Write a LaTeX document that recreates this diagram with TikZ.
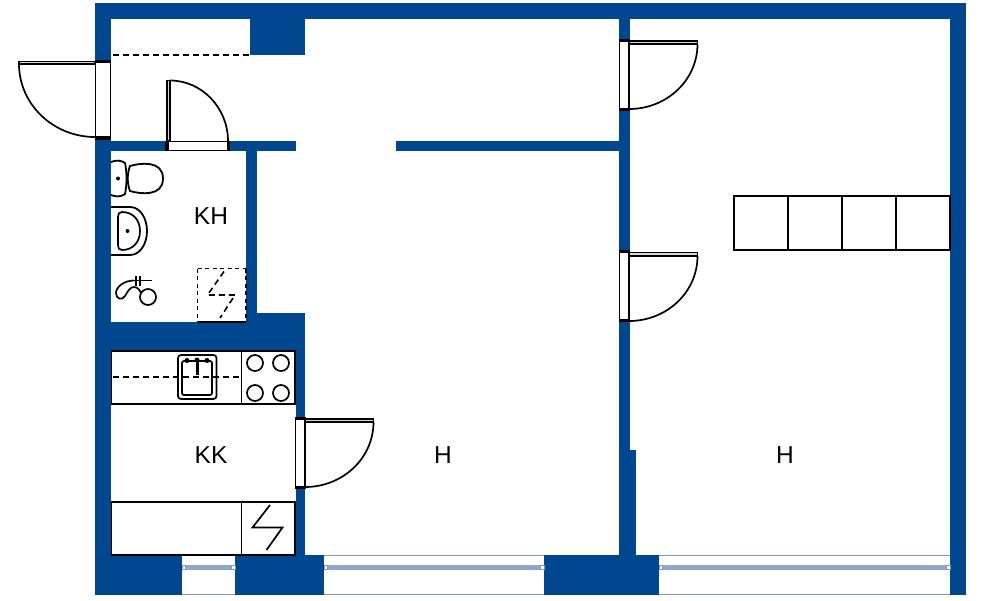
\documentclass[tikz,border=0pt]{standalone}
\usepackage{fontspec}
\setmainfont{Liberation Sans}
\definecolor{wallblue}{HTML}{004790}
\definecolor{glass}{HTML}{8FA8C9}
\definecolor{sill}{HTML}{7F97BC}
\tikzset{
  wall/.style={fill=wallblue,draw=none},
  doorframe/.style={draw=black,line width=1.7pt,fill=white},
  jamb/.style={fill=black,draw=none},
  leaf/.style={draw=black,line width=1.4pt,fill=white!85!black},
  swing/.style={draw=black,line width=1.7pt},
  fixture/.style={draw=black,line width=1.8pt,fill=white},
  symbol/.style={draw=black,line width=1.7pt},
  dashline/.style={draw=black,line width=1.6pt,dash pattern=on 6pt off 4pt},
  shortdash/.style={draw=black,line width=1.6pt,dash pattern=on 4pt off 3.5pt},
  roomlabel/.style={font=\fontsize{24.5}{24.5}\selectfont,text=black,inner sep=0pt},
  glassbar/.style={fill=glass,draw=none},
  sillline/.style={draw=sill,line width=1.2pt},
  glassclip/.style={draw=sill,line width=.7pt,fill=white}
}
\begin{document}
\begin{tikzpicture}[x=1pt,y=-1pt]
\useasboundingbox (0,0) rectangle (987,600);
\fill[white] (0,0) rectangle (987,600);
% walls
\fill[wall] (95,3) rectangle (966,19);
\fill[wall] (95,3) rectangle (111,60);
\fill[wall] (95,138) rectangle (111,595);
\fill[wall] (950,3) rectangle (966,595);
\fill[wall] (250,19) rectangle (305,55);
\fill[wall] (111,141) rectangle (296,151);
\fill[wall] (396,141) rectangle (619,151);
\fill[wall] (246,151) rectangle (257,322);
\fill[wall] (111,322) rectangle (296,351);
\fill[wall] (246,313) rectangle (305,351);
\fill[wall] (296,351) rectangle (305,555);
\fill[wall] (619,19) rectangle (630,555);
\fill[wall] (619,450) rectangle (636,555);
\fill[wall] (95,555) rectangle (182,595);
\fill[wall] (235,555) rectangle (324,595);
\fill[wall] (544,555) rectangle (659,595);
% windows
\foreach \a/\b in {182/235,324/544,659/950}{
  \draw[sillline] (\a,555.5) -- (\b,555.5);
  \draw[sillline] (\a,594.5) -- (\b,594.5);
  \fill[glassbar] (\a+3,565) rectangle (\b-3,569.5);
  \draw[glassclip] (\a,565.5) rectangle (\a+3.5,569);
  \draw[glassclip] (\b-3.5,565.5) rectangle (\b,569);
}
% entrance door
\draw[doorframe] (95.5,61) rectangle (110.5,138);
\fill[jamb] (95,59.5) rectangle (111,63);
\fill[jamb] (95,136) rectangle (111,139.5);
\draw[leaf] (19,61.5) rectangle (95,64);
\draw[swing] (19,64) .. controls (19,104) and (53,137) .. (95,137);
% bathroom door
\draw[doorframe] (166.5,141.5) rectangle (228.5,150.5);
\fill[jamb] (165,141) rectangle (168.5,151);
\fill[jamb] (226.5,141) rectangle (230,151);
\draw[leaf] (167,80.5) rectangle (170,141);
\draw[swing] (170,80.5) .. controls (202,80.5) and (228,108) .. (228,141);
% room doors, middle wall
\draw[doorframe] (619.5,39.5) rectangle (629,109.5);
\fill[jamb] (619,38.5) rectangle (630,41.5);
\fill[jamb] (619,107.5) rectangle (630,110.5);
\draw[leaf] (629,41) rectangle (697.5,44);
\draw[swing] (697.5,44) .. controls (697.5,80) and (667,109) .. (629,109);
\draw[doorframe] (619.5,251) rectangle (629,321);
\fill[jamb] (619,250) rectangle (630,253);
\fill[jamb] (619,319) rectangle (630,322);
\draw[leaf] (629,252.5) rectangle (697.5,256);
\draw[swing] (697.5,256) .. controls (697.5,292) and (667,321) .. (629,321);
% kitchen door
\draw[doorframe] (295.5,418) rectangle (305,487.5);
\fill[jamb] (295,417) rectangle (306,420);
\fill[jamb] (295,485.5) rectangle (306,488.5);
\draw[leaf] (305,419) rectangle (373.5,422);
\draw[swing] (373.5,422) .. controls (373.5,458) and (343,487) .. (305,487);
% dashed opening
\draw[dashline] (113,55) -- (250,55);
% toilet
\draw[fixture] (111,162) .. controls (116,160) and (121,160) .. (125,163)
  .. controls (127,172) and (127,185) .. (125,194)
  .. controls (121,197) and (116,197) .. (111,195);
\draw[fixture] (130,166) .. controls (140,163) and (163,160) .. (163,178.5)
  .. controls (163,197) and (140,194) .. (130,191)
  .. controls (127,183) and (127,174) .. (130,166) -- cycle;
\fill[black] (118,178.5) circle (2);
% washbasin
\draw[fixture] (111,207) -- (130,207) .. controls (140,207) and (147,218) .. (147,231)
  .. controls (147,244) and (140,255) .. (130,255) -- (111,255);
\draw[symbol] (122,212) .. controls (133,212) and (140,220) .. (140,231)
  .. controls (140,242) and (133,250) .. (122,250)
  .. controls (119,250) and (118,248) .. (118,245) -- (118,217)
  .. controls (118,214) and (119,212) .. (122,212) -- cycle;
\fill[black] (127.5,231) circle (2);
% shower
\draw[symbol] (148,297) circle (8);
\draw[symbol] (134,280.5) -- (152,280.5);
\draw[symbol] (136,276) -- (136,286);
\draw[symbol] (140,276) -- (140,286);
\draw[symbol] (134,280.5) .. controls (124,280.5) and (116,287) .. (116,293)
  .. controls (116,299) and (122,301) .. (125,296)
  .. controls (128,291) and (130,287) .. (134,287)
  .. controls (138,287) and (140,291) .. (141,293);
% dashed unit in bathroom
\draw[shortdash] (197.5,268.5) -- (246,268.5);
\draw[shortdash] (197.5,268.5) -- (197.5,322);
\draw[symbol] (197.5,322) -- (246,322);
\draw[shortdash] (246,268.5) -- (246,322);
\draw[dashline] (224,271.5) -- (207.5,295) -- (235,295) -- (220,318);
% kitchen counter
\draw[fixture] (111.5,351) rectangle (295,404);
\draw[symbol] (241.5,351) -- (241.5,404);
\foreach \cx/\cy in {255/363,281/363,255/393,281/393}{\draw[symbol] (\cx,\cy) circle (8);}
\draw[dashline] (113,377) -- (239,377);
\draw[symbol,rounded corners=3pt] (178,355) rectangle (216.5,399);
\draw[symbol,rounded corners=2pt] (182,361) rectangle (212,395);
\draw[line width=3pt] (197,362) -- (197,375);
\fill[black] (187,360.5) circle (2.5);
\fill[black] (207,360.5) circle (2.5);
\fill[black] (197,360) circle (2.5);
% lower kitchen units
\draw[fixture] (111.5,502) rectangle (295,555);
\draw[symbol] (241.5,502) -- (241.5,555);
\draw[symbol] (270,505) -- (252.5,527.5) -- (282.5,527.5) -- (266.5,550);
% shelves
\draw[fixture] (734,196) rectangle (950,250);
\draw[symbol] (788,196) -- (788,250);
\draw[symbol] (842,196) -- (842,250);
\draw[symbol] (896,196) -- (896,250);
% labels
\node[roomlabel] (kh) at (211,216.5) {KH};
\node[roomlabel] (kk) at (211,455) {KK};
\node[roomlabel] (h1) at (443,455) {H};
\node[roomlabel] (h2) at (785,455) {H};
\end{tikzpicture}
\end{document}
